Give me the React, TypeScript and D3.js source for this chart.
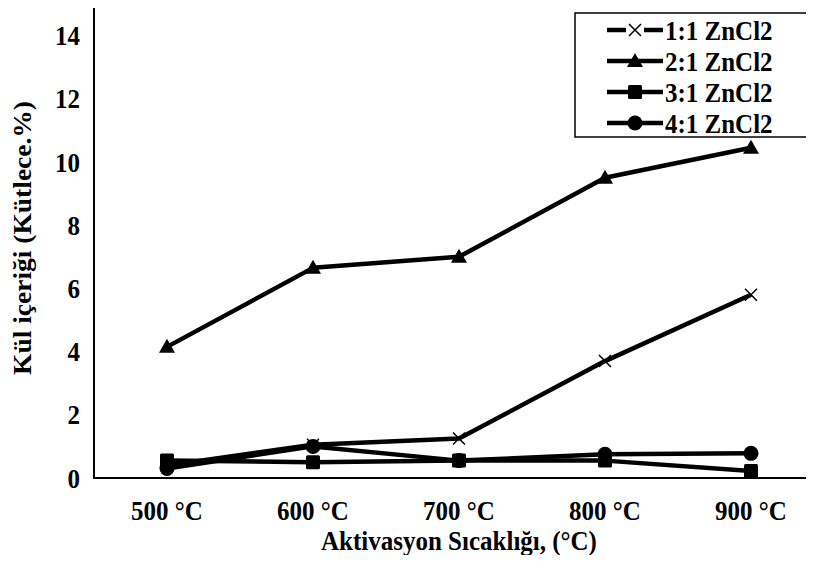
import React, { useEffect, useRef } from 'react'
import * as d3 from 'd3'

const categories = ['500 °C', '600 °C', '700 °C', '800 °C', '900 °C']
const seriesNames = ['1:1 ZnCl2', '2:1 ZnCl2', '3:1 ZnCl2', '4:1 ZnCl2']
const markerTypes = ['x', 'triangle', 'square', 'circle']
const ratio11 = [0.4, 1.05, 1.25, 3.7, 5.8]
const ratio21 = [4.15, 6.65, 7.0, 9.5, 10.45]
const ratio31 = [0.55, 0.5, 0.55, 0.55, 0.22]
const ratio41 = [0.3, 1.0, 0.55, 0.75, 0.78]
const yTicks = [0, 2, 4, 6, 8, 10, 12, 14]

const FONT = '"Liberation Serif", "Times New Roman", serif'
// the source picture is slightly stretched vertically
const STRETCH = 1.1

const App: React.FC = () => {
  const svgRef = useRef<SVGSVGElement>(null)

  useEffect(() => {
    if (!svgRef.current) return
    const svg = d3.select(svgRef.current)
    svg.selectAll('*').remove()

    const left = 94, right = 824, top = 4, bottom = 478

    const x = d3.scalePoint<string>().domain(categories).range([left, right]).padding(0.5)
    const y = d3.scaleLinear().domain([0, 15]).range([bottom, top])

    const allSeries = [ratio11, ratio21, ratio31, ratio41]

    const label = (tx: number, ty: number, txt: string, anchor: string, rotate = false) => {
      svg.append('text')
        .attr('transform', rotate
          ? `translate(${tx},${ty}) rotate(-90) scale(${STRETCH},1)`
          : `translate(${tx},${ty}) scale(1,${STRETCH})`)
        .attr('text-anchor', anchor)
        .attr('dy', rotate ? null : '0.35em')
        .attr('font-family', FONT).attr('font-weight', 'bold').attr('font-size', 25)
        .text(txt)
    }

    // plot border
    svg.append('rect')
      .attr('x', left).attr('y', top)
      .attr('width', right - left).attr('height', bottom - top)
      .attr('fill', 'none').attr('stroke', '#000').attr('stroke-width', 2)

    yTicks.forEach(t => label(80, y(t), String(t), 'end'))
    categories.forEach(c => label(x(c)!, 510, c, 'middle'))
    label((left + right) / 2, 540, 'Aktivasyon Sıcaklığı, (°C)', 'middle')
    label(31, 238, 'Kül içeriği (Kütlece.%)', 'middle', true)

    const drawMarker = (g: d3.Selection<SVGGElement, unknown, null, undefined>, type: string, cx: number, cy: number) => {
      if (type === 'x') {
        const s = 6
        g.append('path')
          .attr('d', `M${cx - s},${cy - s}L${cx + s},${cy + s}M${cx - s},${cy + s}L${cx + s},${cy - s}`)
          .attr('stroke', '#000').attr('stroke-width', 1.5).attr('fill', 'none')
      } else if (type === 'triangle') {
        g.append('path')
          .attr('d', `M${cx},${cy - 8}L${cx + 8},${cy + 6}L${cx - 8},${cy + 6}Z`)
          .attr('fill', '#000')
      } else if (type === 'square') {
        g.append('rect')
          .attr('x', cx - 7).attr('y', cy - 7).attr('width', 14).attr('height', 14)
          .attr('rx', 1.5)
          .attr('fill', '#000')
      } else {
        g.append('circle').attr('cx', cx).attr('cy', cy).attr('r', 7.5).attr('fill', '#000')
      }
    }

    const line = d3.line<number>()
      .x((_, i) => x(categories[i])!)
      .y(d => y(d))

    allSeries.forEach((vals, si) => {
      const g = svg.append('g')
      g.append('path')
        .attr('d', line(vals)!)
        .attr('fill', 'none').attr('stroke', '#000').attr('stroke-width', 4.5)
        .attr('stroke-linejoin', 'round')
      vals.forEach((v, i) => drawMarker(g, markerTypes[si], x(categories[i])!, y(v)))
    })

    // legend
    const lx = 575, ly = 13, lw = 237, lh = 124
    svg.append('rect')
      .attr('x', lx).attr('y', ly).attr('width', lw).attr('height', lh)
      .attr('fill', '#fff').attr('stroke', '#000').attr('stroke-width', 1.5)

    seriesNames.forEach((name, i) => {
      const cy = 30 + i * 31
      const g = svg.append('g')
      g.append('line')
        .attr('x1', 607).attr('x2', 663).attr('y1', cy).attr('y2', cy)
        .attr('stroke', '#000').attr('stroke-width', 4.5)
      if (markerTypes[i] === 'x') {
        g.append('rect').attr('x', 626).attr('y', cy - 8).attr('width', 18).attr('height', 16).attr('fill', '#fff')
      }
      drawMarker(g, markerTypes[i], 635, cy)
      label(665, cy, name, 'start')
    })
  }, [])

  return (
    <div style={{ width: 814, height: 563, overflow: 'hidden', margin: -8 }}>
      <svg ref={svgRef} width={814} height={563} style={{ display: 'block', background: '#fff' }} />
    </div>
  )
}

export default App
